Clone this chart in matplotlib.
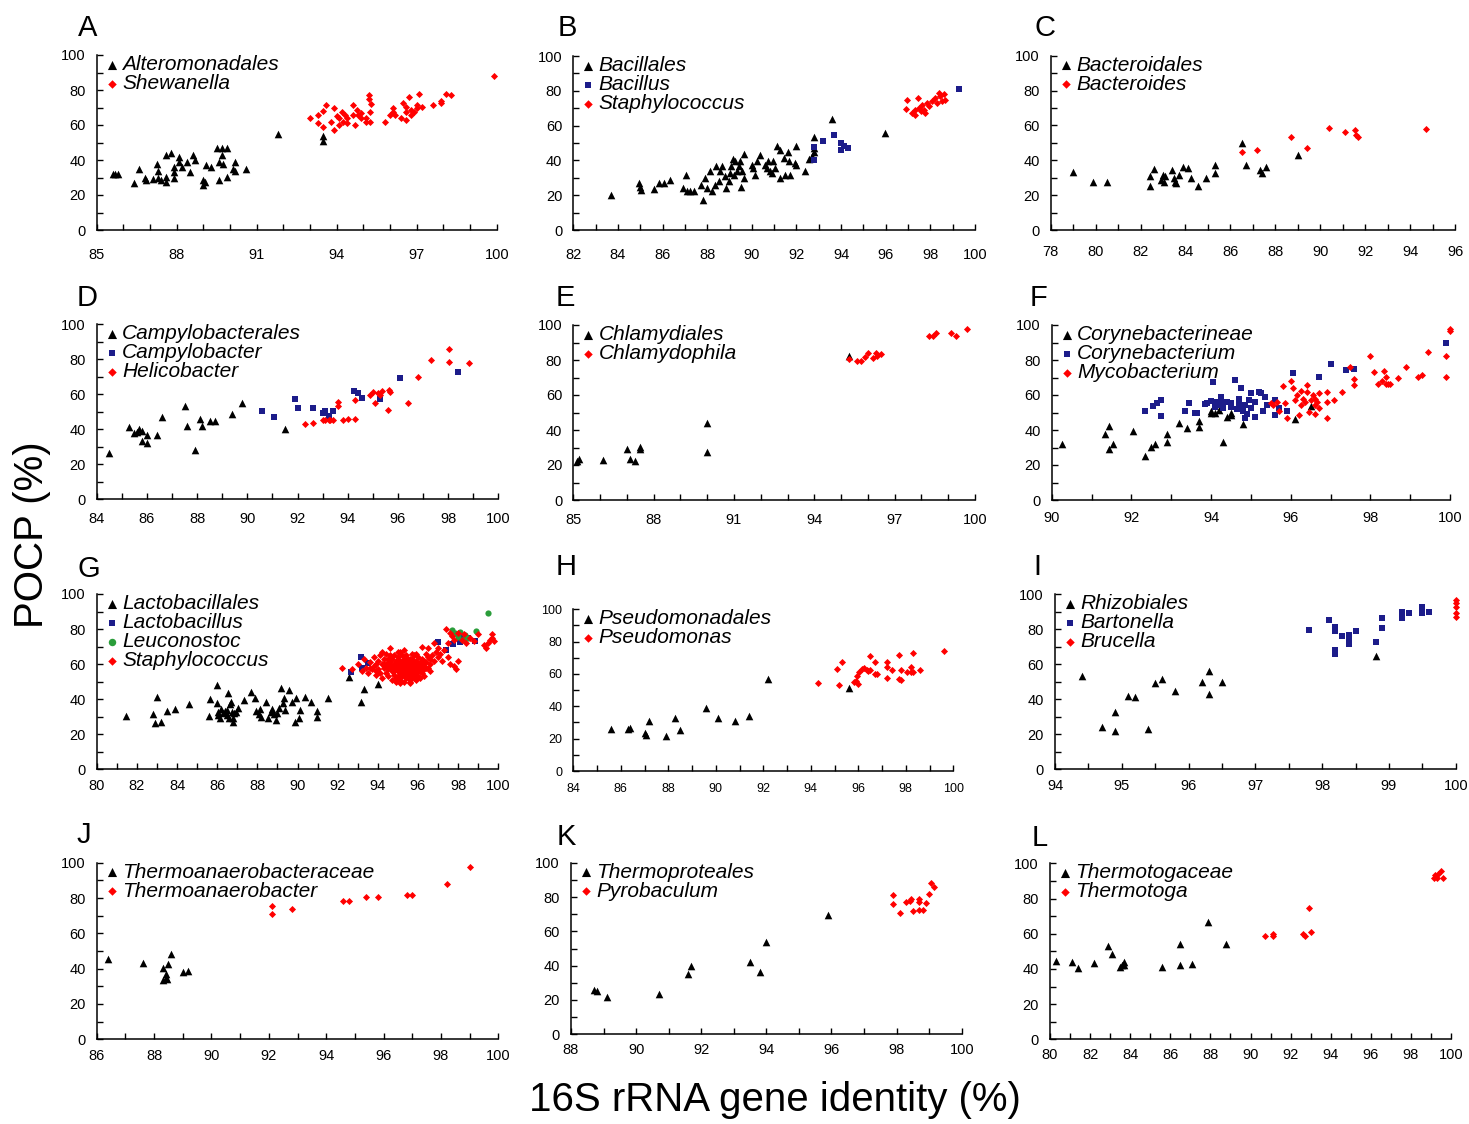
import numpy as np
import matplotlib.pyplot as plt
from matplotlib.ticker import MultipleLocator, FixedLocator, FormatStrFormatter

plt.rcParams['font.family'] = ['Liberation Sans', 'DejaVu Sans']

BLACK = '#000000'
RED = '#ff0000'
BLUE = '#1c1c8a'
GREEN = '#2a9d3a'

# ---- A: Alteromonadales / Shewanella
A_ALT_X = [85.6, 85.7, 85.8, 86.4, 86.6, 86.8, 86.85, 87.1, 87.25, 87.3,
           87.3, 87.4, 87.6, 87.6, 87.6, 87.8, 87.9, 87.9, 87.9, 88.1,
           88.1, 88.2, 88.4, 88.5, 88.6, 88.7, 89.0, 89.0, 89.05, 89.1,
           89.3, 89.5, 89.6, 89.6, 89.7, 89.7, 89.75, 89.9, 89.9, 90.2,
           90.1, 90.2, 90.6, 91.8, 93.5, 93.5]
A_ALT_Y = [32, 32, 32, 26.7, 34.9, 29.5, 28.6, 29, 38, 34,
           29.5, 28.5, 27.6, 30.5, 43, 44, 29.5, 33, 36, 42,
           39, 36, 39, 33, 43, 40, 28.5, 26, 27.6, 37,
           36, 46.7, 39, 28.5, 46.7, 43, 38, 46.7, 30.5, 39,
           35, 34, 35, 55, 54, 51]
A_SHE_X = [93.0, 93.3, 93.3, 93.5, 93.6, 93.5, 93.8, 93.9, 93.9, 94.0,
           94.1, 94.1, 94.2, 94.25, 94.3, 94.4, 94.4, 94.6, 94.6, 94.7,
           94.75, 94.8, 94.9, 94.9, 95.1, 95.1, 95.2, 95.2, 95.25, 95.3,
           95.25, 95.8, 96.0, 96.1, 96.1, 96.2, 96.4, 96.5, 96.6, 96.6,
           96.6, 96.7, 96.8, 96.8, 96.9, 97.0, 97.0, 97.1, 97.2, 97.6,
           97.9, 97.9, 98.1, 98.3, 99.9]
A_SHE_Y = [64, 61, 66, 68, 71.4, 59, 62, 57, 69.5, 65,
           60, 64, 67.6, 62, 66, 61, 64, 71.4, 66, 60,
           68.6, 66, 64, 66.7, 64, 62, 77, 75, 67.6, 71.8,
           62, 62, 66, 69.5, 67.6, 66, 64, 72.4, 67.6, 63,
           70.5, 76, 66, 68.6, 67.6, 69.5, 71.4, 78, 70.5, 71.4,
           72.4, 73.7, 78, 77, 88]

# ---- B: Bacillales / Bacillus / Staphylococcus
B_BAC_X = [83.67, 84.96, 85.0, 85.04, 85.63, 85.85, 86.07, 86.34, 86.93, 87.04,
           87.11, 87.23, 87.41, 87.7, 87.82, 87.88, 88.0, 88.12, 88.22, 88.37,
           88.41, 88.52, 88.59, 88.67, 88.81, 88.86, 88.96, 89.04, 89.07, 89.16,
           89.19, 89.26, 89.33, 89.41, 89.48, 89.51, 89.56, 89.63, 89.66, 90.0,
           90.07, 90.15, 90.22, 90.37, 90.59, 90.67, 90.74, 90.81, 90.89, 90.96,
           91.04, 91.11, 91.26, 91.26, 91.44, 91.48, 91.63, 91.67, 91.7, 91.93,
           92.0, 92.0, 92.37, 92.56, 92.7, 92.78, 92.78, 92.78, 93.6, 95.97]
B_BAC_Y = [20, 27, 25, 23, 23.6, 27, 27, 28.5, 24, 31.7,
           22.5, 22.5, 22.5, 26, 17.3, 29.8, 24.4, 33.7, 22.5, 26,
           36.5, 28, 33.7, 36.5, 30.8, 24, 28, 32.7, 36.5, 41,
           31.7, 39.4, 33.7, 36.5, 39.4, 25, 33.7, 29.8, 43.7, 37.5,
           35.6, 31.7, 39.4, 43.3, 37.5, 35.6, 39.4, 33.7, 32.7, 39.4,
           35.6, 48, 46, 29.8, 41.3, 31.7, 45, 39.4, 31.7, 38.5,
           37.5, 48, 33.7, 41, 42.3, 53.3, 45, 47, 63.8, 55.8]
B_BCS_X = [92.78, 92.78, 93.18, 93.67, 94.0, 94.0, 94.15, 94.3, 99.3]
B_BCS_Y = [40.4, 47.5, 51, 54.4, 50, 46, 48, 47, 80.8]
B_STA_X = [96.89, 96.96, 97.19, 97.3, 97.33, 97.45, 97.48, 97.56, 97.63, 97.7,
           97.78, 97.85, 97.93, 98.07, 98.22, 98.3, 98.37, 98.44, 98.52, 98.59,
           98.64]
B_STA_Y = [69.6, 75, 67.3, 69.2, 66.3, 75.6, 70.2, 68.3, 71.7, 69.2,
           67.3, 73, 71, 74, 76, 73, 79, 77, 74, 78,
           75]

# ---- C: Bacteroidales / Bacteroides
C_BAC_X = [79.0, 79.9, 80.5, 82.4, 82.4, 82.6, 82.9, 83.0, 83.05, 83.1,
           83.4, 83.5, 83.55, 83.6, 83.7, 83.9, 84.1, 84.25, 84.55, 84.9,
           85.3, 85.3, 86.5, 86.7, 87.3, 87.4, 87.6, 89.0]
C_BAC_Y = [33.5, 27.3, 27.7, 31, 25, 35, 28.7, 31.5, 27.7, 31,
           34.4, 29.6, 27.7, 26.8, 31.5, 36.3, 35.4, 30, 25, 30,
           37.3, 32.5, 49.7, 37.3, 34.4, 32.5, 36.3, 43]
C_BDS_X = [86.5, 87.2, 88.7, 89.4, 90.4, 91.1, 91.55, 91.6, 91.7, 94.7]
C_BDS_Y = [45, 46, 53.5, 47.2, 58.3, 56, 57.4, 54.5, 53.5, 57.7]

# ---- D: Campylobacterales / Campylobacter / Helicobacter
D_CAM_X = [84.5, 85.3, 85.5, 85.6, 85.7, 85.8, 85.8, 86.0, 86.0, 86.4,
           86.6, 87.5, 87.6, 87.9, 88.1, 88.2, 88.5, 88.7, 89.4, 89.8,
           91.5]
D_CAM_Y = [26.3, 41.5, 37.7, 38.7, 40.2, 39, 33.3, 36.8, 32, 37,
           47.2, 53.5, 42, 28.2, 45.7, 42, 44.8, 44.8, 49, 55,
           40.2]
D_CBR_X = [90.6, 91.05, 91.9, 92.0, 92.6, 93.0, 93.1, 93.25, 93.4, 94.25,
           94.4, 94.55, 95.3, 96.1, 98.4]
D_CBR_Y = [50.5, 47.2, 57.3, 52, 52, 49.5, 50.5, 47.8, 50.5, 62,
           61, 57.7, 57.1, 69.5, 72.6]
D_HEL_X = [92.3, 92.6, 93.0, 93.1, 93.25, 93.3, 93.4, 93.6, 93.6, 93.8,
           94.0, 94.3, 94.3, 94.9, 95.0, 95.1, 95.2, 95.3, 95.35, 95.6,
           95.65, 95.7, 96.4, 96.8, 97.3, 98.05, 98.05, 98.85]
D_HEL_Y = [43.2, 43.8, 45.3, 45.3, 45.3, 45.3, 45.3, 55.8, 53.5, 45.3,
           46, 46, 56.6, 59.6, 61.5, 54.9, 61, 59.4, 61.9, 51,
           62.5, 61.5, 55.2, 70, 79.6, 85.7, 78.7, 78]

# ---- E: Chlamydiales / Chlamydophila
E_CHL_X = [85.15, 85.2, 86.1, 87.0, 87.1, 87.3, 87.5, 87.5, 90.0, 90.0, 95.3]
E_CHL_Y = [22.3, 23.4, 22.9, 29.1, 23.4, 22.3, 30.5, 29.1, 43.8, 27.6, 82.5]
E_CPH_X = [95.3, 95.6, 95.75, 95.9, 96.0, 96.2, 96.3, 96.35, 96.5, 98.3,
           98.45, 98.55, 99.1, 99.3, 99.7]
E_CPH_Y = [80.6, 79.4, 79.4, 81.9, 83.8, 81, 83.8, 82.5, 83.2, 93.9,
           93.9, 95.2, 95.2, 93.9, 98]

# ---- F: Corynebacterineae / Corynebacterium / Mycobacterium
F_COR_X = [90.25, 91.35, 91.45, 91.45, 91.55, 92.05, 92.35, 92.5, 92.6, 92.9,
           92.9, 93.2, 93.4, 93.7, 93.7, 94.0, 94.0, 94.1, 94.2, 94.3,
           94.4, 94.5, 94.5, 94.8, 96.1, 96.5]
F_COR_Y = [31.8, 37.5, 29.1, 42.5, 31.8, 39.4, 25.3, 30.5, 31.8, 37.5,
           33, 43.8, 41.3, 42, 45, 49.5, 50.8, 50, 51.4, 33,
           47.6, 49.5, 48.6, 43.2, 46.3, 53.9]
F_CBM_X = [92.35, 92.55, 92.65, 92.75, 92.75, 93.35, 93.45, 93.6, 93.65, 93.85,
           93.9, 94.0, 94.05, 94.1, 94.15, 94.2, 94.25, 94.3, 94.3, 94.4,
           94.5, 94.5, 94.6, 94.65, 94.7, 94.7, 94.75, 94.8, 94.85, 94.85,
           94.9, 94.95, 95.0, 95.0, 95.1, 95.1, 95.2, 95.25, 95.3, 95.35,
           95.4, 95.6, 95.6, 95.7, 95.9, 96.05, 96.7, 97.0, 97.4, 97.6,
           99.9]
F_CBM_Y = [50.9, 53.9, 55.2, 57.1, 48.2, 50.9, 55.2, 49.5, 49.5, 54.7,
           55.2, 56.6, 67.2, 53.3, 56.2, 54.3, 59, 56.2, 52.8, 55.8,
           53.3, 55.2, 68.6, 52, 58, 54.3, 63.8, 50.9, 47, 54.3,
           49, 57.1, 61, 52.8, 47.6, 56.2, 61.9, 61, 50.9, 59,
           54.3, 57.1, 48.6, 52.4, 50.9, 72.4, 70.5, 78, 74.3, 74.9,
           89.5]
F_MYC_X = [95.5, 95.55, 95.65, 95.7, 95.8, 95.85, 95.9, 96.0, 96.05, 96.1,
           96.15, 96.2, 96.25, 96.25, 96.3, 96.35, 96.4, 96.4, 96.45, 96.5,
           96.55, 96.6, 96.6, 96.6, 96.65, 96.7, 96.7, 96.9, 96.9, 96.9,
           97.1, 97.3, 97.5, 97.6, 97.6, 98.0, 98.1, 98.2, 98.3, 98.35,
           98.4, 98.4, 98.45, 98.5, 98.7, 98.9, 99.2, 99.3, 99.45, 99.9,
           99.9, 100.0, 100.0]
F_MYC_Y = [55.2, 54.3, 56.2, 50.9, 65.3, 55.2, 47, 68, 63.8, 57.1,
           60, 48.6, 62.3, 54.3, 58, 56.2, 65.7, 61.9, 50.5, 57.1,
           60, 49, 54.3, 58, 56.2, 52.4, 61, 61.5, 47, 55.8,
           57.1, 61.5, 76.2, 69.1, 65.7, 82.5, 72.9, 66.1, 68, 73.7,
           66.1, 70.5, 66.1, 66.1, 69.5, 76.2, 70.5, 71.4, 84.8, 82.5,
           70.5, 98, 96.6]

# ---- G: Lactobacillales / Lactobacillus / Leuconostoc / Staphylococcus
G_LAC_X = [81.45, 82.8, 82.9, 83.0, 83.2, 83.5, 83.9, 84.6, 85.6, 85.65,
           86.0, 86.0, 86.05, 86.05, 86.15, 86.2, 86.3, 86.4, 86.5, 86.5,
           86.55, 86.6, 86.65, 86.7, 86.75, 86.8, 86.8, 86.85, 86.95, 87.05,
           87.35, 87.7, 87.9, 87.95, 88.1, 88.15, 88.2, 88.45, 88.55, 88.7,
           88.75, 88.85, 88.95, 89.0, 89.1, 89.2, 89.3, 89.35, 89.4, 89.6,
           89.75, 89.9, 89.95, 90.05, 90.1, 90.35, 90.65, 90.95, 90.95, 91.5,
           92.55, 93.15, 93.3, 94.0]
G_LAC_Y = [30.6, 31.4, 26.2, 41.4, 26.8, 33.3, 34.4, 37, 30.6, 40.1,
           37.6, 48.1, 31, 32.9, 29.5, 34.4, 31.9, 33.3, 31, 33.8,
           43.3, 29.1, 37, 38.6, 32.9, 29.1, 27.2, 31.9, 32.9, 34.8,
           39.5, 43.9, 40.5, 33.3, 31.4, 34.4, 30, 38.6, 29.1, 32.9,
           34.4, 31.4, 28.1, 31.9, 34.8, 46.2, 37.6, 40.9, 33.8, 45.2,
           38.6, 26.8, 40.5, 29.5, 33.8, 41.4, 38.6, 33.3, 30, 40.5,
           52.9, 38.6, 45.8, 48.5]
G_LBC_X = [92.65, 93.15, 93.2, 93.5, 97.0, 97.4, 97.75, 98.1, 98.25, 98.5, 98.85]
G_LBC_Y = [55.7, 64.3, 57.6, 60.5, 72.4, 68.1, 71.3, 72.8, 74.7, 75.1, 73.2]
G_LEU_X = [97.7, 97.85, 98.0, 98.1, 98.25, 98.35, 98.5, 98.9, 99.5]
G_LEU_Y = [79.5, 77.6, 75.7, 78.5, 73.8, 76.6, 74.7, 78.9, 89.4]
G_STA_X = [92.2, 92.7, 93.0, 93.2, 93.3, 93.4, 93.5, 93.6, 93.7, 93.8,
           93.8, 93.9, 94.0, 94.0, 94.1, 94.1, 94.2, 94.2, 94.3, 94.3,
           94.4, 94.4, 94.5, 94.5, 94.5, 94.6, 94.6, 94.7, 94.7, 94.7,
           94.8, 94.8, 94.8, 94.9, 94.9, 94.9, 95.0, 95.0, 95.0, 95.0,
           95.1, 95.1, 95.1, 95.1, 95.2, 95.2, 95.2, 95.2, 95.3, 95.3,
           95.3, 95.3, 95.4, 95.4, 95.4, 95.4, 95.5, 95.5, 95.5, 95.5,
           95.6, 95.6, 95.6, 95.6, 95.7, 95.7, 95.7, 95.7, 95.8, 95.8,
           95.8, 95.8, 95.9, 95.9, 95.9, 95.9, 96.0, 96.0, 96.0, 96.0,
           96.1, 96.1, 96.1, 96.2, 96.2, 96.2, 96.3, 96.3, 96.4, 96.4,
           96.5, 96.5, 96.6, 96.6, 96.7, 96.8, 96.8, 96.9, 97.0, 97.0,
           97.1, 97.2, 97.3, 97.4, 97.5, 97.5, 97.6, 97.6, 97.7, 97.8,
           97.8, 97.9, 98.0, 98.0, 98.2, 98.3, 98.4, 98.6, 98.8, 99.0,
           99.3, 99.4, 99.5, 99.6, 99.7, 99.7, 99.8, 95.0, 95.3, 95.7,
           94.2, 93.9, 94.6, 95.2, 95.5, 96.3, 95.6, 95.1, 94.9, 96.6,
           95.0, 95.2, 95.4, 95.6, 95.8, 96.0, 95.3, 95.7, 95.9, 96.2,
           94.6, 94.8, 95.1, 95.5, 95.7, 96.1, 96.3, 94.4, 94.9, 95.4,
           93.6, 93.9, 94.3, 94.7, 95.0, 95.8, 96.4, 96.5, 94.5, 95.9]
G_STA_Y = [58, 57, 60, 56, 63, 58, 55, 61, 57, 59,
           64, 54, 62, 57, 65, 55, 60, 52, 63, 58,
           66, 55, 61, 53, 57, 69, 59, 63, 51, 56,
           60, 65, 54, 58, 62, 50, 56, 60, 64, 53,
           58, 51, 62, 67, 55, 60, 57, 53, 63, 59,
           50, 56, 61, 54, 58, 65, 52, 57, 60, 55,
           63, 58, 50, 54, 61, 56, 59, 52, 65, 57,
           54, 60, 62, 58, 55, 51, 60, 56, 64, 53,
           58, 61, 52, 70, 55, 63, 59, 57, 66, 61,
           69, 58, 63, 60, 65, 72, 62, 67, 64, 69,
           66, 62, 68, 80, 64, 72, 78, 60, 76, 59,
           74, 57, 62, 78, 74, 77, 72, 75, 73, 77,
           71, 69, 72, 74, 75, 77, 73, 67, 68, 66,
           67, 60, 65, 65, 63, 53, 49, 49, 52, 56,
           58, 62, 56, 60, 62, 58, 54, 54, 57, 60,
           61, 56, 55, 59, 63, 56, 62, 59, 60, 52,
           58, 56, 60, 58, 51, 52, 58, 64, 63, 66]

# ---- H: Pseudomonadales / Pseudomonas
H_PSE_X = [85.6, 86.3, 86.4, 87.0, 87.05, 87.2, 87.9, 88.3, 88.5, 89.6,
           90.1, 90.8, 91.4, 92.2, 95.6]
H_PSE_Y = [26, 26, 26.8, 23.7, 22.3, 30.9, 21.6, 33, 25.4, 39.2,
           33, 31.1, 34.2, 56.7, 51.5]
H_PSM_X = [94.3, 95.1, 95.2, 95.3, 95.8, 95.9, 95.95, 96.0, 96.05, 96.15,
           96.25, 96.35, 96.4, 96.5, 96.5, 96.7, 96.7, 96.8, 97.2, 97.2,
           97.2, 97.4, 97.7, 97.7, 97.8, 97.8, 98.05, 98.2, 98.2, 98.3,
           98.3, 98.6, 99.6]
H_PSM_Y = [54.2, 62.9, 53.2, 67.2, 54.8, 55.7, 59, 53.6, 61.4, 62.9,
           63.5, 62.5, 61.9, 62.5, 71.1, 67.2, 60, 60, 67.2, 64.5,
           57.7, 62.5, 71.8, 56.9, 62.5, 56.3, 61, 64.5, 61, 72.8,
           61.4, 62.5, 74.2]

# ---- I: Rhizobiales / Bartonella / Brucella
I_RHI_X = [94.4, 94.7, 94.9, 94.9, 95.1, 95.2, 95.4, 95.5, 95.6, 95.8,
           96.2, 96.3, 96.3, 96.5, 98.8]
I_RHI_Y = [53.5, 24.4, 32.6, 21.9, 42.1, 41.5, 23, 49.1, 51.6, 44.8,
           50.1, 56.4, 43, 49.7, 65]
I_BAR_X = [97.8, 98.1, 98.2, 98.2, 98.2, 98.2, 98.3, 98.4, 98.4, 98.4,
           98.5, 98.8, 98.9, 98.9, 99.2, 99.2, 99.3, 99.5, 99.5, 99.6]
I_BAR_Y = [79.6, 85.3, 81.5, 79, 68.2, 65.7, 76.4, 76.8, 73.3, 71.4,
           79, 73, 86.7, 80.6, 90, 86.7, 89.5, 93, 89.1, 90]
I_BRU_X = [100.0, 100.0, 100.0, 100.0, 100.0]
I_BRU_Y = [96.8, 94.9, 93, 89.1, 87.2]

# ---- J: Thermoanaerobacteraceae / Thermoanaerobacter
J_TAC_X = [86.4, 87.6, 88.3, 88.3, 88.4, 88.4, 88.45, 88.5, 88.6, 89.0, 89.2]
J_TAC_Y = [45.5, 43, 40.2, 33.6, 36.8, 34.9, 34.2, 42.5, 48.1, 38.3, 38.9]
J_TAB_X = [92.1, 92.1, 92.8, 94.6, 94.8, 95.4, 95.8, 96.8, 97.0, 98.2, 99.0]
J_TAB_Y = [75.7, 70.8, 73.6, 78.3, 78.3, 80.8, 80.8, 81.7, 81.7, 87.9, 97.7]

# ---- K: Thermoproteales / Pyrobaculum
K_THP_X = [88.7, 88.8, 89.1, 90.7, 91.6, 91.7, 93.5, 93.8, 94.0, 95.9]
K_THP_Y = [25.8, 25.2, 21.9, 23.5, 35, 39.8, 42.3, 36.5, 53.6, 69.5]
K_PYR_X = [97.9, 97.9, 98.1, 98.3, 98.4, 98.45, 98.5, 98.7, 98.7, 98.7,
           98.8, 98.9, 99.0, 99.05, 99.15]
K_PYR_Y = [81.2, 75.9, 70.5, 76.9, 77.7, 78.8, 71.8, 78.8, 77.3, 72.4,
           72.4, 76.3, 81.6, 88, 86]

# ---- L: Thermotogaceae / Thermotoga
L_TGC_X = [80.3, 81.1, 81.4, 82.2, 82.9, 83.1, 83.5, 83.6, 83.7, 83.7,
           85.6, 86.5, 86.5, 87.1, 87.9, 88.8]
L_TGC_Y = [44.5, 44.1, 40.3, 43.2, 53.2, 48.3, 41.3, 42.2, 43.8, 42.2,
           41.3, 54, 42.2, 42.6, 66.5, 54]
L_TMG_X = [90.7, 91.1, 91.1, 92.6, 92.7, 92.9, 93.0, 99.15, 99.2, 99.3,
           99.35, 99.5, 99.6]
L_TMG_Y = [58.7, 60, 58.7, 60, 58.9, 74.4, 61, 91.5, 93.4, 91.9,
           93.8, 95.8, 91.9]

# marker style per kind: (marker, colour, size)
STYLE = {
    'tri': ('^', BLACK, 30),
    'dia': ('D', RED, 13),
    'sq': ('s', BLUE, 16),
    'dot': ('o', GREEN, 20),
}

W, H = 1469, 1124

# letter, letter pos (px), box (left, right, top, bottom px), xlim, x label step, x pad, series
PANELS = [
    ('A', (88, 28), (96.7, 496.7, 55, 230), (85, 100), 3, 13,
     [('Alteromonadales', A_ALT_X, A_ALT_Y, 'tri'),
      ('Shewanella', A_SHE_X, A_SHE_Y, 'dia')]),
    ('B', (567, 28), (573.3, 975, 56, 230), (82, 100), 2, 13,
     [('Bacillales', B_BAC_X, B_BAC_Y, 'tri'),
      ('Bacillus', B_BCS_X, B_BCS_Y, 'sq'),
      ('Staphylococcus', B_STA_X, B_STA_Y, 'dia')]),
    ('C', (1045, 28), (1050.7, 1455, 55.7, 230), (78, 96), 2, 11,
     [('Bacteroidales', C_BAC_X, C_BAC_Y, 'tri'),
      ('Bacteroides', C_BDS_X, C_BDS_Y, 'dia')]),
    ('D', (87, 298), (96.7, 498.3, 324.3, 499.3), (84, 100), 2, 9,
     [('Campylobacterales', D_CAM_X, D_CAM_Y, 'tri'),
      ('Campylobacter', D_CBR_X, D_CBR_Y, 'sq'),
      ('Helicobacter', D_HEL_X, D_HEL_Y, 'dia')]),
    ('E', (565, 298), (573.3, 975, 325, 500), (85, 100), 3, 9,
     [('Chlamydiales', E_CHL_X, E_CHL_Y, 'tri'),
      ('Chlamydophila', E_CPH_X, E_CPH_Y, 'dia')]),
    ('F', (1038, 298), (1051.7, 1450, 325, 500), (90, 100), 2, 8,
     [('Corynebacterineae', F_COR_X, F_COR_Y, 'tri'),
      ('Corynebacterium', F_CBM_X, F_CBM_Y, 'sq'),
      ('Mycobacterium', F_MYC_X, F_MYC_Y, 'dia')]),
    ('G', (89, 569), (96.7, 498.3, 594, 769.3), (80, 100), 2, 7,
     [('Lactobacillales', G_LAC_X, G_LAC_Y, 'tri'),
      ('Lactobacillus', G_LBC_X, G_LBC_Y, 'sq'),
      ('Leuconostoc', G_LEU_X, G_LEU_Y, 'dot'),
      ('Staphylococcus', G_STA_X, G_STA_Y, 'dia')]),
    ('H', (566, 567), (573.3, 953.3, 609.3, 771), (84, 100), 2, 9,
     [('Pseudomonadales', H_PSE_X, H_PSE_Y, 'tri'),
      ('Pseudomonas', H_PSM_X, H_PSM_Y, 'dia')]),
    ('I', (1037, 567), (1055, 1455.7, 594.3, 769.3), (94, 100), 1, 7,
     [('Rhizobiales', I_RHI_X, I_RHI_Y, 'tri'),
      ('Bartonella', I_BAR_X, I_BAR_Y, 'sq'),
      ('Brucella', I_BRU_X, I_BRU_Y, 'dia')]),
    ('J', (84, 835), (96.7, 498.3, 862.7, 1039.3), (86, 100), 2, 7,
     [('Thermoanaerobacteraceae', J_TAC_X, J_TAC_Y, 'tri'),
      ('Thermoanaerobacter', J_TAB_X, J_TAB_Y, 'dia')]),
    ('K', (566, 837), (571, 961.7, 862.7, 1034.3), (88, 100), 2, 6,
     [('Thermoproteales', K_THP_X, K_THP_Y, 'tri'),
      ('Pyrobaculum', K_PYR_X, K_PYR_Y, 'dia')]),
    ('L', (1040, 838), (1050, 1451, 863.3, 1039.3), (80, 100), 2, 6,
     [('Thermotogaceae', L_TGC_X, L_TGC_Y, 'tri'),
      ('Thermotoga', L_TMG_X, L_TMG_Y, 'dia')]),
]


def draw_panel(fig, letter, letter_xy, box, xlim, xstep, xpad, series):
    left, right, top, bottom = box
    ax = fig.add_axes([left / W, 1 - bottom / H, (right - left) / W, (bottom - top) / H])

    handles = []
    for label, xs, ys, kind in series:
        marker, color, size = STYLE[kind]
        h = ax.scatter(xs, ys, marker=marker, s=size, color=color,
                       linewidths=0, clip_on=False, label=label, zorder=3)
        handles.append(h)

    ax.set_xlim(*xlim)
    ax.set_ylim(0, 100)
    ax.xaxis.set_major_locator(FixedLocator(np.arange(xlim[0], xlim[1] + 0.01, xstep)))
    ax.xaxis.set_minor_locator(MultipleLocator(0.5 if xstep == 1 else 1))
    ax.xaxis.set_major_formatter(FormatStrFormatter('%d'))
    ax.yaxis.set_major_locator(MultipleLocator(20))
    ax.yaxis.set_minor_locator(MultipleLocator(10))

    for side in ('top', 'right'):
        ax.spines[side].set_visible(False)
    for side in ('left', 'bottom'):
        ax.spines[side].set_linewidth(1.1)

    small = letter == 'H'
    ax.tick_params(which='both', direction='in', width=1.0, length=4,
                   colors='black', labelsize=9 if small else 10.5)
    ax.tick_params(axis='x', pad=xpad)
    ax.tick_params(axis='y', pad=8)

    ax.legend(handles=handles, loc='upper left', bbox_to_anchor=(0.022, 1.0),
              frameon=False, prop=dict(style='italic', size=15),
              handlelength=0.6, handletextpad=0.2, labelspacing=0.0,
              borderpad=0, borderaxespad=0, markerscale=1.2, scatterpoints=1)

    fig.text(letter_xy[0] / W, 1 - letter_xy[1] / H, letter, fontsize=21,
             ha='center', va='center')
    return ax


fig = plt.figure(figsize=(W / 100, H / 100), dpi=100)
for spec in PANELS:
    draw_panel(fig, *spec)

fig.text(32 / W, 1 - 535 / H, 'POCP (%)', rotation=90, fontsize=29,
         ha='center', va='center')
fig.text(775 / W, 1 - 1100 / H, '16S rRNA gene identity (%)', fontsize=29,
         ha='center', va='center')

fig.savefig('out.png', dpi=100)
